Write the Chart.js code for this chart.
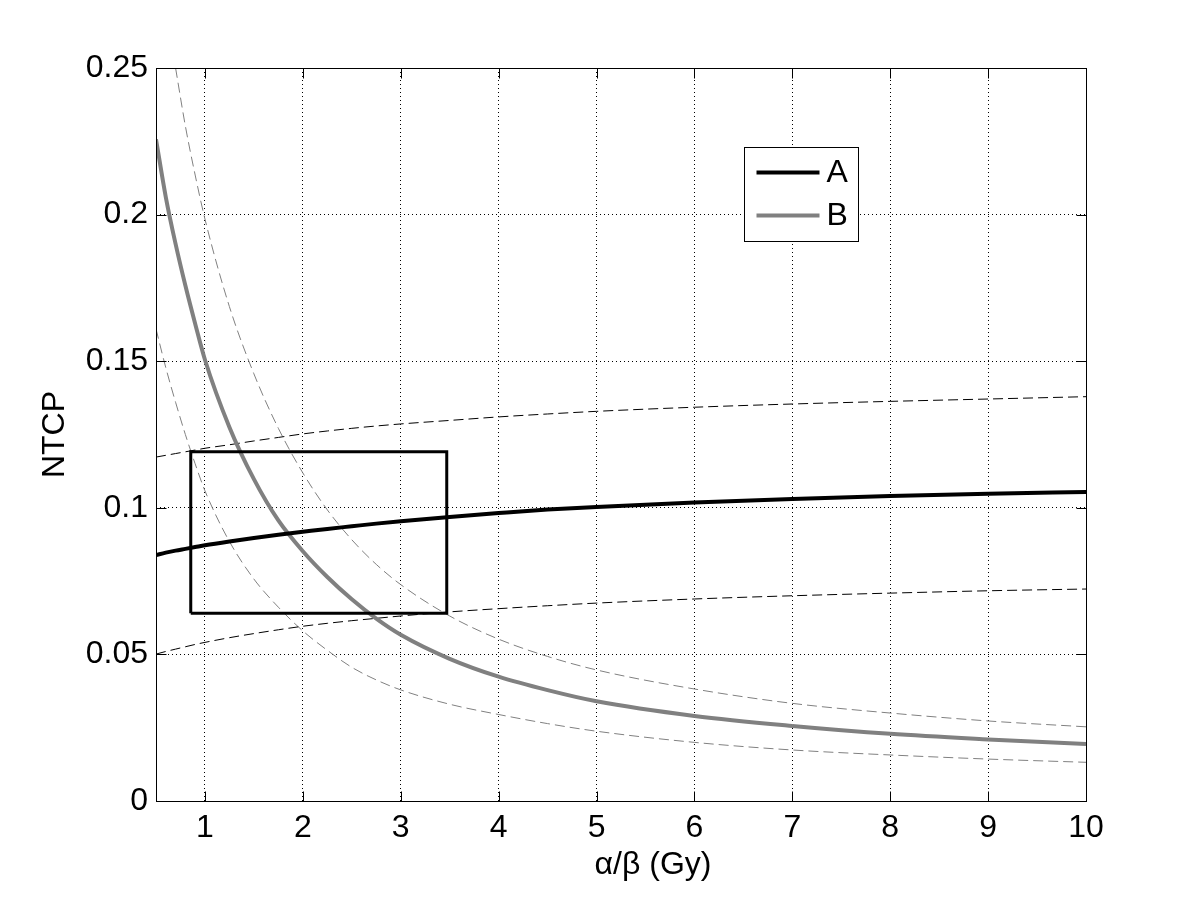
<!DOCTYPE html>
<html>
<head>
<meta charset="utf-8">
<title>NTCP vs alpha/beta</title>
<script src="https://cdn.jsdelivr.net/npm/chart.js@4.4.0/dist/chart.umd.min.js"></script>
<style>
  html, body { margin: 0; padding: 0; background: #fff; }
  #wrap { width: 1200px; height: 900px; }
</style>
</head>
<body>
<div id="wrap"><canvas id="chartNtcp" width="1200" height="900"></canvas></div>
<script>
// alpha/beta (Gy) sample points, shared by all curves
const alphaBeta = [0.5, 0.6, 0.7, 0.8, 0.9, 1, 1.25, 1.5, 1.75, 2, 2.25, 2.5, 2.75, 3, 3.5, 4, 4.5, 5, 6, 7, 8, 9, 10];

// curve A (black) with its upper / lower dashed bounds
const ntcpA      = [0.0839, 0.0847, 0.0854, 0.0860, 0.0866, 0.0872, 0.0885, 0.0897, 0.0908, 0.0918, 0.0928, 0.0937, 0.0946, 0.0954, 0.0969, 0.0982, 0.0994, 0.1003, 0.1018, 0.1030, 0.1040, 0.1048, 0.1054];
const ntcpAUpper = [0.1173, 0.1179, 0.1185, 0.1191, 0.1197, 0.1203, 0.1215, 0.1228, 0.1240, 0.1252, 0.1262, 0.1271, 0.1279, 0.1286, 0.1298, 0.1310, 0.1320, 0.1329, 0.1343, 0.1354, 0.1363, 0.1371, 0.1379];
const ntcpALower = [0.0501, 0.0510, 0.0518, 0.0526, 0.0534, 0.0541, 0.0557, 0.0571, 0.0584, 0.0596, 0.0606, 0.0615, 0.0623, 0.0631, 0.0645, 0.0656, 0.0666, 0.0675, 0.0689, 0.0700, 0.0709, 0.0717, 0.0723];

// curve B (grey) with its upper / lower dashed bounds (upper one enters at the top edge)
const ntcpB      = [0.2257, 0.2060, 0.1900, 0.1758, 0.1628, 0.1505, 0.1275, 0.1098, 0.0957, 0.0852, 0.0764, 0.0688, 0.0622, 0.0567, 0.0485, 0.0424, 0.0378, 0.0340, 0.0290, 0.0256, 0.0229, 0.0210, 0.0194];
const ntcpBUpper = [null,   null,   0.2500, 0.2302, 0.2135, 0.1985, 0.1686, 0.1457, 0.1271, 0.1119, 0.0993, 0.0891, 0.0807, 0.0738, 0.0631, 0.0552, 0.0493, 0.0447, 0.0382, 0.0333, 0.0300, 0.0273, 0.0253];
const ntcpBLower = [0.1610, 0.1478, 0.1360, 0.1250, 0.1150, 0.1058, 0.0885, 0.0757, 0.0661, 0.0580, 0.0514, 0.0456, 0.0413, 0.0379, 0.0330, 0.0295, 0.0264, 0.0238, 0.0200, 0.0174, 0.0157, 0.0143, 0.0132];

// box drawn over the plot
const boxX = [0.855, 0.855, 3.47, 3.47, 0.855];
const boxY = [0.0640, 0.1191, 0.1191, 0.0640, 0.0640];

// ticks and titles
const xTicks = [1, 2, 3, 4, 5, 6, 7, 8, 9, 10];
const yTicks = [0, 0.05, 0.1, 0.15, 0.2, 0.25];
const yTickLabels = ['0', '0.05', '0.1', '0.15', '0.2', '0.25'];
const xTitle = 'α/β (Gy)';
const yTitle = 'NTCP';

const GREY = '#808080';
const FONT = '"Liberation Sans", Arial, Helvetica, sans-serif';
const TICK_LEN = 10;

function toPoints(xs, ys) {
    return xs.map((x, i) => ({ x: x, y: ys[i] })).filter(p => p.y !== null);
}

function curve(label, ys, color, width, dash) {
    return {
        label: label,
        data: toPoints(alphaBeta, ys),
        borderColor: color,
        borderWidth: width,
        borderDash: dash || [],
        pointRadius: 0,
        fill: false,
        cubicInterpolationMode: 'monotone',
        clip: 0
    };
}

// frame round the plot area and inward tick marks on all four sides
const frameTicks = {
    id: 'frameTicks',
    afterDatasetsDraw(chart) {
        const { ctx, chartArea: a, scales } = chart;
        const left = Math.round(a.left) + 0.5, right = Math.round(a.right) + 0.5;
        const top = Math.round(a.top) + 0.5, bottom = Math.round(a.bottom) + 0.5;
        ctx.save();
        ctx.strokeStyle = '#000';
        ctx.lineWidth = 1;
        ctx.setLineDash([]);
        ctx.beginPath();
        xTicks.forEach(v => {
            const px = Math.round(scales.x.getPixelForValue(v)) + 0.5;
            ctx.moveTo(px, bottom); ctx.lineTo(px, bottom - TICK_LEN);
            ctx.moveTo(px, top); ctx.lineTo(px, top + TICK_LEN);
        });
        yTicks.forEach(v => {
            const py = Math.round(scales.y.getPixelForValue(v)) + 0.5;
            ctx.moveTo(left, py); ctx.lineTo(left + TICK_LEN, py);
            ctx.moveTo(right, py); ctx.lineTo(right - TICK_LEN, py);
        });
        ctx.stroke();
        ctx.strokeRect(left, top, right - left, bottom - top);
        ctx.restore();
    }
};

// x axis title, sits a bit right of the centre like in the original
const xAxisTitle = {
    id: 'xAxisTitle',
    afterDraw(chart) {
        const { ctx, chartArea: a } = chart;
        ctx.save();
        ctx.font = '32px ' + FONT;
        ctx.fillStyle = '#000';
        ctx.textAlign = 'center';
        ctx.textBaseline = 'middle';
        ctx.fillText(xTitle, (a.left + a.right) / 2 + 32, a.bottom + 64);
        ctx.restore();
    }
};

// boxed legend inside the plot, upper right
const boxLegend = {
    id: 'boxLegend',
    afterDraw(chart) {
        const { ctx, chartArea: a } = chart;
        const bx = Math.round(a.left + 588) + 0.5, by = Math.round(a.top + 79) + 0.5;
        const bw = 114, bh = 94;
        const items = chart.data.datasets.filter(d => d.label === 'A' || d.label === 'B');
        ctx.save();
        ctx.fillStyle = '#fff';
        ctx.fillRect(bx, by, bw, bh);
        ctx.strokeStyle = '#000';
        ctx.lineWidth = 1;
        ctx.strokeRect(bx, by, bw, bh);
        ctx.font = '32px ' + FONT;
        ctx.textBaseline = 'middle';
        ctx.textAlign = 'left';
        items.forEach((d, i) => {
            const ly = by + 25 + i * 43;
            ctx.strokeStyle = d.borderColor;
            ctx.lineWidth = d.borderWidth;
            ctx.beginPath();
            ctx.moveTo(bx + 12, ly);
            ctx.lineTo(bx + 75, ly);
            ctx.stroke();
            ctx.fillStyle = '#000';
            ctx.fillText(d.label, bx + 82, ly + 1);
        });
        ctx.restore();
    }
};

const ctx = document.getElementById('chartNtcp').getContext('2d');
new Chart(ctx, {
    type: 'line',
    data: {
        datasets: [
            {
                label: 'box',
                data: toPoints(boxX, boxY),
                borderColor: '#000',
                borderWidth: 3,
                pointRadius: 0,
                tension: 0,
                fill: false,
                clip: 0
            },
            curve('A', ntcpA, '#000', 4),
            curve('B', ntcpB, GREY, 4),
            curve('A upper', ntcpAUpper, '#000', 1, [10, 5]),
            curve('A lower', ntcpALower, '#000', 1, [10, 5]),
            curve('B upper', ntcpBUpper, GREY, 1, [10, 5]),
            curve('B lower', ntcpBLower, GREY, 1, [10, 5])
        ]
    },
    options: {
        responsive: false,
        animation: false,
        devicePixelRatio: 1,
        layout: { padding: { left: 0, right: 114, top: 68, bottom: 0 } },
        plugins: {
            legend: { display: false },
            tooltip: { enabled: false }
        },
        scales: {
            x: {
                type: 'linear',
                min: 0.5,
                max: 10,
                afterBuildTicks: s => { s.ticks = xTicks.map(v => ({ value: v })); },
                afterFit: s => { s.height = 99; },
                ticks: {
                    color: '#000',
                    padding: 8,
                    maxRotation: 0,
                    font: { family: FONT, size: 32 },
                    callback: v => String(v)
                },
                grid: { color: '#000', lineWidth: 1, drawTicks: false },
                border: { display: false, dash: [1, 3] }
            },
            y: {
                type: 'linear',
                min: 0,
                max: 0.25,
                afterBuildTicks: s => { s.ticks = yTicks.map(v => ({ value: v })); },
                afterFit: s => { s.width = 156; },
                ticks: {
                    color: '#000',
                    padding: 8,
                    font: { family: FONT, size: 32 },
                    callback: (v, i) => yTickLabels[i]
                },
                grid: { color: '#000', lineWidth: 1, drawTicks: false },
                border: { display: false, dash: [1, 3] },
                title: {
                    display: true,
                    text: yTitle,
                    color: '#000',
                    font: { family: FONT, size: 32 },
                    padding: { top: 36, bottom: 0 }
                }
            }
        }
    },
    plugins: [frameTicks, xAxisTitle, boxLegend]
});
</script>
</body>
</html>
